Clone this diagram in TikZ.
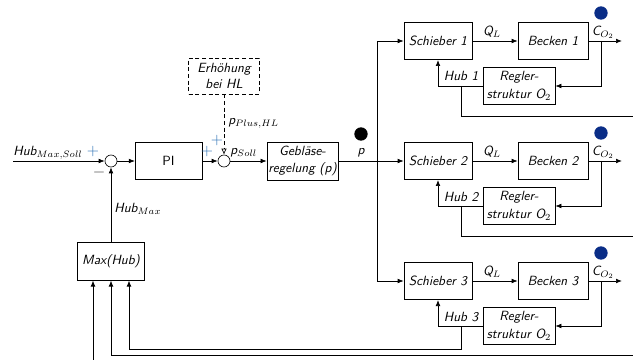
\documentclass[tikz,border=0pt]{standalone}
\usepackage{amsmath}
\usetikzlibrary{arrows.meta}
\definecolor{plusblue}{RGB}{40,110,180}
\definecolor{dotblue}{RGB}{10,45,135}
\tikzset{
  blk/.style={draw,align=center,font=\sffamily\itshape,minimum width=51pt,minimum height=28pt,inner sep=1pt},
  sumnode/.style={draw,circle,inner sep=0pt,minimum size=9pt},
  lbl/.style={font=\sffamily\itshape,inner sep=0pt},
  pm/.style={text=plusblue,font=\sffamily\large,inner sep=0pt},
  sigdot/.style={circle,fill,inner sep=0pt,minimum size=10pt},
}

\begin{document}
\begin{tikzpicture}[x=0.75pt,y=-0.75pt,>={Latex[length=4.5pt,width=3.5pt]},line width=.5pt]
\useasboundingbox (0,0) rectangle (633,360);
\clip (0,0) rectangle (633,360);
% Hub-Regelung links
\coordinate (in) at (13,161);
\node[sumnode] (S1) at (111,161) {};
\node[blk,font=\sffamily,minimum width=50pt] (PI) at (168.5,161) {PI};
\node[sumnode] (S2) at (224,161) {};
\node[blk,densely dashed,minimum width=53pt,minimum height=27pt] (Erh) at (224,76) {Erh\"ohung\\bei HL};
\node[blk,minimum width=53pt,minimum height=28.5pt] (Gbl) at (302.5,161) {Gebl\"ase-\\[1pt]regelung (p)};
\node[blk,minimum width=50pt] (Max) at (111,261.5) {Max(Hub)};
\node[lbl,anchor=base west] (lHubSoll) at (13,156) {Hub$_{Max,Soll}$};
\node[pm] (plus1) at (93,152) {+};
\node[inner sep=0pt,text=black!75,font=\large] (minus1) at (99,172) {$-$};
\node[lbl,anchor=base west] (lHubMax) at (114,213) {Hub$_{Max}$};
\node[pm] (plus2) at (207,152) {+};
\node[pm] (plus3) at (217,141) {+};
\node[lbl,anchor=base west] (lPlus) at (228,125) {p$_{Plus,HL}$};
\node[lbl,anchor=base west] (lSoll) at (230,155) {p$_{Soll}$};
\node[sigdot] (pdot) at (361,134) {};
\node[lbl,anchor=base] (lp) at (361,155) {p};
\draw[->] (in) -- (S1);
\draw[->] (S1) -- (PI);
\draw[->] (PI) -- (S2);
\draw[->] (S2) -- (Gbl);
\draw[densely dashed,-{Latex[open,length=4.5pt,width=4pt]}] (Erh) -- (S2);
\draw[->] (Max) -- (S1);
% Verteilung auf die Becken
\coordinate (jb) at (377,161);
\node[blk] (Sch1) at (438,41) {Schieber 1};
\node[blk] (Sch2) at (438,161) {Schieber 2};
\node[blk] (Sch3) at (438,281) {Schieber 3};
\draw[->] (Gbl) -- (Sch2);
\draw[->] (jb) |- (Sch1);
\draw[->] (jb) |- (Sch3);
% Strang 1
\node[blk,minimum width=52.5pt] (Bec1) at (553,41) {Becken 1};
\node[blk,minimum width=54pt] (Reg1) at (519,86) {Regler-\\[1pt]struktur O$_2$};
\node[sigdot,dotblue] (cdot1) at (601,13) {};
\node[lbl] (lQ1) at (492,32) {Q$_L$};
\node[lbl] (lC1) at (603,32) {C$_{O_2}$};
\node[lbl,anchor=base] (lHub1) at (461,81) {Hub 1};
\coordinate (br1) at (601,41);
\coordinate (out1) at (622,41);
\coordinate (hb1) at (461,86);
\coordinate (hr1) at (650,116);
\draw[->] (Sch1) -- (Bec1);
\draw[->] (Bec1) -- (out1);
\draw[->] (br1) |- (Reg1);
\draw[->] (Reg1) -| (Sch1);
\draw (hb1) |- (hr1);
% Strang 2
\node[blk,minimum width=52.5pt] (Bec2) at (553,161) {Becken 2};
\node[blk,minimum width=54pt] (Reg2) at (519,206) {Regler-\\[1pt]struktur O$_2$};
\node[sigdot,dotblue] (cdot2) at (601,133) {};
\node[lbl] (lQ2) at (492,152) {Q$_L$};
\node[lbl] (lC2) at (603,152) {C$_{O_2}$};
\node[lbl,anchor=base] (lHub2) at (461,201) {Hub 2};
\coordinate (br2) at (601,161);
\coordinate (out2) at (622,161);
\coordinate (hb2) at (461,206);
\coordinate (hr2) at (650,236);
\draw[->] (Sch2) -- (Bec2);
\draw[->] (Bec2) -- (out2);
\draw[->] (br2) |- (Reg2);
\draw[->] (Reg2) -| (Sch2);
\draw (hb2) |- (hr2);
% Strang 3
\node[blk,minimum width=52.5pt] (Bec3) at (553,281) {Becken 3};
\node[blk,minimum width=54pt] (Reg3) at (519,326) {Regler-\\[1pt]struktur O$_2$};
\node[sigdot,dotblue] (cdot3) at (601,253) {};
\node[lbl] (lQ3) at (492,272) {Q$_L$};
\node[lbl] (lC3) at (603,272) {C$_{O_2}$};
\node[lbl,anchor=base] (lHub3) at (461,321) {Hub 3};
\coordinate (br3) at (601,281);
\coordinate (out3) at (622,281);
\coordinate (hb3) at (461,326);
\coordinate (hc3) at (129,349);
\draw[->] (Sch3) -- (Bec3);
\draw[->] (Bec3) -- (out3);
\draw[->] (br3) |- (Reg3);
\draw[->] (Reg3) -| (Sch3);
% Rueckfuehrung Hub
\coordinate (hr2b) at (650,355);
\coordinate (hbot) at (93,370);
\draw[->] (hb3) |- (hc3) -- (hc3 |- Max.south);
\draw[->] (hr2b) -| (Max.south);
\draw[->] (hbot) -- (hbot |- Max.south);
\end{tikzpicture}
\end{document}
